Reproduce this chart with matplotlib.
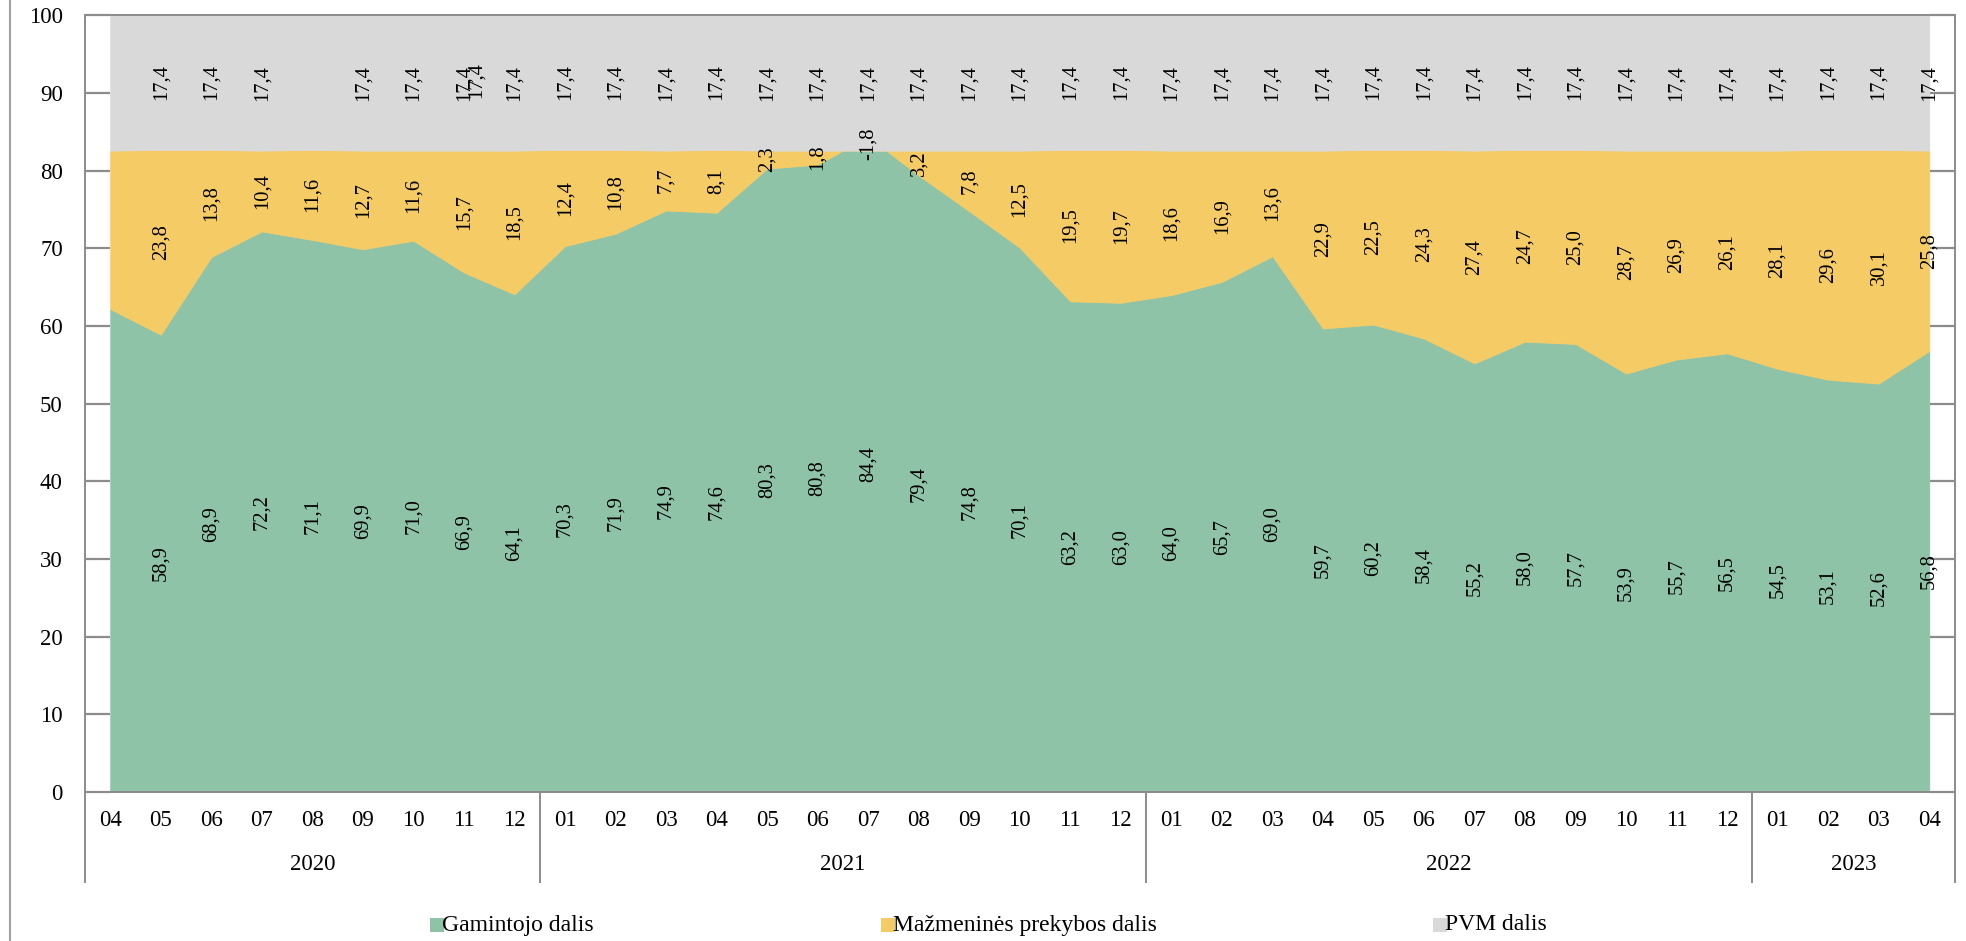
import matplotlib
matplotlib.use("Agg")
import matplotlib.pyplot as plt
from matplotlib.transforms import blended_transform_factory
from matplotlib.patches import Rectangle
from matplotlib.lines import Line2D

# ---------------- data ----------------
months = ["04", "05", "06", "07", "08", "09", "10", "11", "12",
          "01", "02", "03", "04", "05", "06", "07", "08", "09", "10", "11", "12",
          "01", "02", "03", "04", "05", "06", "07", "08", "09", "10", "11", "12",
          "01", "02", "03", "04"]
years = ["2020", "2021", "2022", "2023"]
year_counts = [9, 12, 12, 4]

producer = [62.2, 58.9, 68.9, 72.2, 71.1, 69.9, 71.0, 66.9, 64.1,
            70.3, 71.9, 74.9, 74.6, 80.3, 80.8, 84.4, 79.4, 74.8, 70.1, 63.2, 63.0,
            64.0, 65.7, 69.0, 59.7, 60.2, 58.4, 55.2, 58.0, 57.7, 53.9, 55.7, 56.5,
            54.5, 53.1, 52.6, 56.8]
retail = [20.4, 23.8, 13.8, 10.4, 11.6, 12.7, 11.6, 15.7, 18.5,
          12.4, 10.8, 7.7, 8.1, 2.3, 1.8, -1.8, 3.2, 7.8, 12.5, 19.5, 19.7,
          18.6, 16.9, 13.6, 22.9, 22.5, 24.3, 27.4, 24.7, 25.0, 28.7, 26.9, 26.1,
          28.1, 29.6, 30.1, 25.8]
vat = [17.4, 17.4, 17.4, 17.4, 17.4, 17.4, 17.4, 17.4, 17.4,
       17.4, 17.4, 17.4, 17.4, 17.4, 17.4, 17.4, 17.4, 17.4, 17.4, 17.4, 17.4,
       17.4, 17.4, 17.4, 17.4, 17.4, 17.4, 17.4, 17.4, 17.4, 17.4, 17.4, 17.4,
       17.4, 17.4, 17.4, 17.4]

# which points carry data labels (first month has none; one VAT label missing)
label_on = [False] + [True] * 36
vat_label_on = [False, True, True, True, False] + [True] * 32
vat_extra_label_at = 7   # duplicated, slightly shifted label in the original

series_names = ["Gamintojo dalis", "Mažmeninės prekybos dalis", "PVM dalis"]
colors = ["#8EC3A7", "#F5CB65", "#D9D9D9"]

# ---------------- figure ----------------
W, H = 1966, 941
fig = plt.figure(figsize=(W / 100, H / 100), dpi=100)
plt.rcParams["font.family"] = ["Liberation Serif", "DejaVu Serif"]

ax_left, ax_right, ax_top, ax_bot = 85, 1954.5, 15.5, 792
ax = fig.add_axes([ax_left / W, 1 - ax_bot / H, (ax_right - ax_left) / W, (ax_bot - ax_top) / H])

x = list(range(len(months)))
s1 = producer
s2 = [a + b for a, b in zip(producer, retail)]
s3 = [a + b for a, b in zip(s2, vat)]
base = [0] * len(x)

ax.fill_between(x, base, s1, color=colors[0], lw=0.6, edgecolor=colors[0])
ax.fill_between(x, s1, s2, color=colors[1], lw=0.6, edgecolor=colors[1])
ax.fill_between(x, s2, s3, color=colors[2], lw=0.6, edgecolor=colors[2])

ax.set_xlim(-0.5, len(x) - 0.5)
ax.set_ylim(0, 100)
ax.set_yticks(range(0, 101, 10))
ax.set_yticklabels([str(v) for v in range(0, 101, 10)], fontsize=16.5)
spine_col = "#8C8C8C"
for sp in ax.spines.values():
    sp.set_color(spine_col)
    sp.set_linewidth(1.4)
ax.tick_params(axis="y", direction="in", length=18, width=1.6, color=spine_col,
               left=True, right=True, pad=16, labelcolor="black")
ax.set_xticks(x)
ax.set_xticklabels(months, fontsize=16.5)
ax.tick_params(axis="x", length=0, pad=13, labelcolor="black")

# data labels
def fmt(v):
    return f"{v:.1f}".replace(".", ",")

lab_kw = dict(rotation=90, ha="center", va="center", fontsize=14.8, color="black")
for i in x:
    if label_on[i]:
        ax.text(i, s1[i] / 2, fmt(producer[i]), **lab_kw)
        ax.text(i, (s1[i] + s2[i]) / 2, fmt(retail[i]), **lab_kw)
    if vat_label_on[i]:
        ax.text(i, (s2[i] + s3[i]) / 2, fmt(vat[i]), **lab_kw)
j = vat_extra_label_at
ax.text(j + 0.24, (s2[j] + s3[j]) / 2 + 0.4, fmt(vat[j]), **lab_kw)

# year grouping
tr = blended_transform_factory(ax.transData, ax.transAxes)
ax_h = ax_bot - ax_top
sep_y = -(882 - ax_bot) / ax_h
year_y = -(864 - ax_bot) / ax_h
edges = [-0.5]
for c in year_counts:
    edges.append(edges[-1] + c)
for e in edges:
    ax.add_line(Line2D([e, e], [0, sep_y], transform=tr, color=spine_col, lw=1.4, clip_on=False))
for k, yl in enumerate(years):
    ax.text((edges[k] + edges[k + 1]) / 2, year_y, yl, transform=tr, ha="center", va="center",
            fontsize=16.5, color="black")

# legend (manual, single row)
leg_y = 925
sq = 14
leg_items = [(430, 442), (881, 893), (1433, 1445)]
for (sx, tx), name, col in zip(leg_items, series_names, colors):
    fig.add_artist(Rectangle((sx / W, 1 - (leg_y + sq / 2) / H), sq / W, sq / H,
                             transform=fig.transFigure, color=col, lw=0))
    fig.text(tx / W, 1 - leg_y / H, name, ha="left", va="center", fontsize=17, color="black")

# outer chart border (left edge visible)
fig.add_artist(Line2D([10 / W, 10 / W], [0, 1], transform=fig.transFigure, color="#A0A0A0", lw=1.5))

fig.savefig("out.png", dpi=100)
